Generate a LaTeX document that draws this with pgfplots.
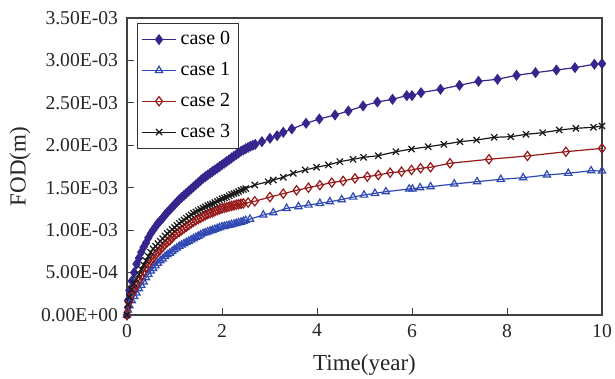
\documentclass[border=0pt]{standalone}
\usepackage{fontspec}
\setmainfont{Liberation Serif}
\usepackage{pgfplots}
\usepackage{pgfplotstable}
\pgfplotsset{compat=1.18}
\definecolor{cz}{RGB}{52,38,140}
\definecolor{cone}{RGB}{48,72,178}
\definecolor{ctwo}{RGB}{150,25,25}
\definecolor{cthree}{RGB}{25,25,25}
% values in units of 1E-03 m
\pgfplotstableread{
t v
0 0
0.02 0.17
0.05 0.29
0.1 0.40
0.15 0.50
0.2 0.60
0.25 0.67
0.3 0.74
0.35 0.80
0.4 0.85
0.45 0.91
0.5 0.96
0.55 1.00
0.6 1.04
0.65 1.08
0.7 1.11
0.75 1.14
0.8 1.18
0.85 1.21
0.9 1.24
0.95 1.27
1.0 1.30
1.05 1.33
1.1 1.36
1.15 1.385
1.2 1.41
1.25 1.435
1.3 1.46
1.35 1.485
1.4 1.51
1.45 1.535
1.5 1.56
1.55 1.585
1.6 1.61
1.65 1.63
1.7 1.65
1.75 1.67
1.8 1.69
1.85 1.71
1.9 1.73
1.95 1.75
2.0 1.77
2.05 1.79
2.1 1.81
2.15 1.83
2.2 1.85
2.25 1.87
2.3 1.89
2.35 1.91
2.4 1.93
2.45 1.945
2.5 1.96
2.55 1.975
2.6 1.99
2.65 2.00
2.7 2.01
2.84 2.042
3.01 2.082
3.16 2.113
3.29 2.153
3.47 2.192
3.77 2.259
4.05 2.310
4.38 2.357
4.66 2.404
4.97 2.463
5.27 2.510
5.59 2.542
5.89 2.585
6.0 2.585
6.19 2.620
6.6 2.660
7.0 2.707
7.4 2.754
7.8 2.778
8.2 2.825
8.6 2.856
9.04 2.887
9.43 2.915
9.84 2.955
10.0 2.962
}\casezero
\pgfplotstableread{
t v
0 0
0.02 0.06
0.05 0.11
0.1 0.17
0.15 0.22
0.2 0.26
0.25 0.31
0.3 0.35
0.35 0.39
0.4 0.44
0.45 0.48
0.5 0.52
0.55 0.55
0.6 0.58
0.65 0.61
0.7 0.64
0.75 0.66
0.8 0.69
0.85 0.71
0.9 0.73
0.95 0.75
1.0 0.77
1.05 0.79
1.1 0.81
1.15 0.825
1.2 0.84
1.25 0.855
1.3 0.87
1.35 0.885
1.4 0.90
1.45 0.915
1.5 0.93
1.55 0.945
1.6 0.96
1.65 0.97
1.7 0.98
1.75 0.99
1.8 1.00
1.85 1.01
1.9 1.02
1.95 1.03
2.0 1.04
2.05 1.045
2.1 1.052
2.15 1.058
2.2 1.065
2.25 1.072
2.3 1.08
2.35 1.088
2.4 1.095
2.45 1.105
2.5 1.115
2.59 1.13
2.87 1.179
3.08 1.206
3.36 1.257
3.61 1.277
3.82 1.296
4.06 1.316
4.27 1.335
4.52 1.36
4.76 1.39
4.99 1.414
5.22 1.434
5.45 1.453
5.94 1.485
6.01 1.485
6.17 1.500
6.39 1.512
6.89 1.544
7.37 1.571
7.87 1.599
8.34 1.618
8.84 1.650
9.29 1.670
9.77 1.700
10.0 1.697
}\caseone
\pgfplotstableread{
t v
0 0
0.02 0.09
0.05 0.16
0.1 0.24
0.15 0.30
0.2 0.35
0.25 0.41
0.3 0.46
0.35 0.51
0.4 0.56
0.45 0.60
0.5 0.64
0.55 0.67
0.6 0.71
0.65 0.74
0.7 0.77
0.75 0.80
0.8 0.83
0.85 0.86
0.9 0.88
0.95 0.91
1.0 0.94
1.05 0.96
1.1 0.98
1.15 1.00
1.2 1.02
1.25 1.04
1.3 1.06
1.35 1.08
1.4 1.10
1.45 1.115
1.5 1.13
1.55 1.145
1.6 1.16
1.65 1.175
1.7 1.19
1.75 1.20
1.8 1.21
1.85 1.222
1.9 1.235
1.95 1.245
2.0 1.255
2.05 1.263
2.1 1.27
2.15 1.278
2.2 1.285
2.25 1.292
2.3 1.30
2.35 1.305
2.4 1.31
2.45 1.315
2.55 1.325
2.69 1.34
3.01 1.39
3.29 1.43
3.57 1.47
3.82 1.50
4.06 1.53
4.31 1.56
4.55 1.58
4.80 1.61
5.06 1.63
5.29 1.65
5.54 1.677
5.78 1.689
5.99 1.709
6.18 1.729
6.39 1.741
6.8 1.788
7.62 1.835
8.43 1.874
9.24 1.924
10.0 1.964
}\casetwo
\pgfplotstableread{
t v
0 0
0.02 0.12
0.05 0.21
0.1 0.30
0.15 0.37
0.2 0.42
0.25 0.48
0.3 0.54
0.35 0.59
0.4 0.64
0.45 0.69
0.5 0.74
0.55 0.78
0.6 0.81
0.65 0.84
0.7 0.87
0.75 0.90
0.8 0.93
0.85 0.96
0.9 0.98
0.95 1.01
1.0 1.03
1.05 1.055
1.1 1.08
1.15 1.10
1.2 1.12
1.25 1.14
1.3 1.16
1.35 1.18
1.4 1.20
1.45 1.215
1.5 1.23
1.55 1.245
1.6 1.26
1.65 1.275
1.7 1.29
1.75 1.30
1.8 1.31
1.85 1.325
1.9 1.34
1.95 1.355
2.0 1.37
2.05 1.38
2.1 1.39
2.15 1.405
2.2 1.42
2.25 1.43
2.3 1.44
2.35 1.455
2.4 1.47
2.45 1.48
2.5 1.49
2.69 1.532
2.97 1.571
3.08 1.591
3.29 1.623
3.50 1.670
3.75 1.709
3.99 1.741
4.24 1.768
4.48 1.807
4.76 1.835
4.98 1.858
5.29 1.877
5.66 1.924
5.99 1.956
6.34 1.983
6.67 2.011
7.01 2.042
7.36 2.062
7.73 2.094
8.08 2.101
8.40 2.129
8.75 2.148
9.10 2.180
9.45 2.200
9.82 2.212
10.0 2.227
}\casethree
\begin{document}
\begin{tikzpicture}
\path[use as bounding box] (-63.5pt,-32pt) rectangle (244pt,157.5pt);
\begin{axis}[
  at={(0,0)}, anchor=south west,
  scale only axis, width=237.5pt, height=148.5pt,
  xmin=0, xmax=10, ymin=0, ymax=3.5,
  clip=false,
  axis line style={black!75, line width=0.6pt},
  tick style={black!75, line width=0.5pt},
  tick align=inside, major tick length=3.5pt,
  xtick pos=left, ytick pos=left,
  xtick={0,2,4,6,8,10}, xticklabels={0,2,4,6,8,10},
  ytick={0,0.5,1,1.5,2,2.5,3,3.5},
  yticklabels={0.00E+00,5.00E-04,1.00E-03,1.50E-03,2.00E-03,2.50E-03,3.00E-03,3.50E-03},
  ticklabel style={font=\fontsize{9.8}{11}\selectfont, text=black!85},
  yticklabel style={xshift=-1pt},
  xticklabel style={yshift=-1pt},
  xlabel={Time(year)}, ylabel={FOD(m)},
  label style={font=\fontsize{11.5}{13}\selectfont, text=black!85},
  xlabel style={at={(axis description cs:0.5,-0.168)}, anchor=center},
  ylabel style={at={(axis description cs:-0.225,0.5)}, anchor=center},
  legend style={at={(0.021,0.983)}, anchor=north west, draw=black!80, fill=white,
    font=\fontsize{10}{12}\selectfont, row sep=3.3pt, inner sep=2pt},
  legend cell align=left,
]
\addplot[cz, line width=0.6pt, mark=diamond*, mark size=2.3pt, mark options={fill=cz, draw=cz}] table[x=t,y=v] {\casezero};
\addlegendentry{case 0}
\addplot[cone, line width=0.6pt, mark=triangle, mark size=2.1pt, mark options={draw=cone, fill=white, line width=0.6pt}] table[x=t,y=v] {\caseone};
\addlegendentry{case 1}
\addplot[ctwo, line width=0.6pt, mark=diamond, mark size=2.3pt, mark options={draw=ctwo, fill=white, line width=0.6pt}] table[x=t,y=v] {\casetwo};
\addlegendentry{case 2}
\addplot[cthree, line width=0.6pt, mark=x, mark size=2.2pt, mark options={draw=cthree, line width=0.6pt}] table[x=t,y=v] {\casethree};
\addlegendentry{case 3}
\end{axis}
\end{tikzpicture}
\end{document}
